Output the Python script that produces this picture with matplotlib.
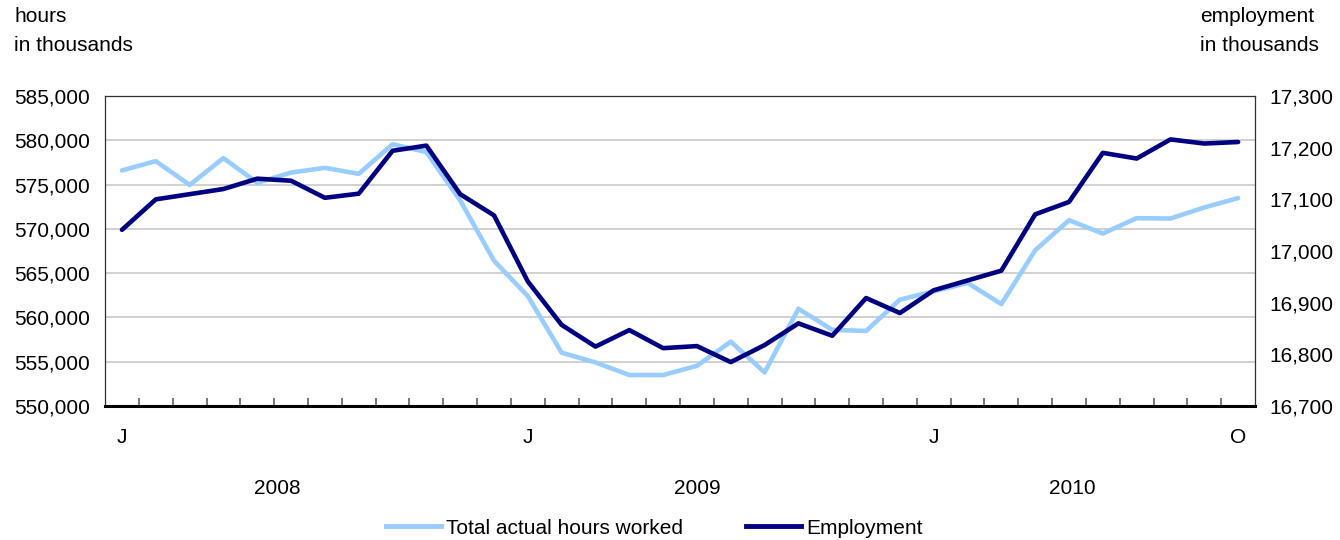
import matplotlib
matplotlib.use('Agg')
import matplotlib.pyplot as plt
from matplotlib.lines import Line2D
from matplotlib.ticker import FuncFormatter

plt.rcParams['font.family'] = ['Liberation Sans', 'DejaVu Sans']

# Monthly data, Jan 2008 to Oct 2010
months = ['J', 'F', 'M', 'A', 'M', 'J', 'J', 'A', 'S', 'O', 'N', 'D'] * 2 + \
         ['J', 'F', 'M', 'A', 'M', 'J', 'J', 'A', 'S', 'O']
years = ['2008', '2009', '2010']

hours = [576600, 577650, 574960, 577990, 575200, 576360, 576890, 576210,
         579550, 578670, 573200, 566400,
         562400, 556020, 554920, 553500, 553500, 554540, 557270, 553800,
         560980, 558600, 558480, 562010,
         562950, 563900, 561510, 567580, 570980, 569470, 571210, 571170,
         572420, 573480]

employment = [17041, 17100, 17110, 17120, 17140, 17136, 17103, 17111,
              17194, 17204, 17110, 17069,
              16941, 16857, 16815, 16847, 16812, 16816, 16785, 16818,
              16860, 16836, 16909, 16880,
              16924, 16943, 16962, 17071, 17095, 17190, 17179, 17216,
              17208, 17211]

hours_ticks = [550000, 555000, 560000, 565000, 570000, 575000, 580000, 585000]
emp_ticks = [16700, 16800, 16900, 17000, 17100, 17200, 17300]

C_HOURS = '#99CCFF'
C_EMP = '#000080'
C_GRID = '#C8C8C8'
FS = 15

fig = plt.figure(figsize=(13.4, 5.4), dpi=100)
fig.patch.set_facecolor('white')
ax = fig.add_axes([0.0784, 0.2481, 0.8582, 0.5741])
ax2 = ax.twinx()

x = list(range(len(months)))
ax.plot(x, hours, color=C_HOURS, lw=3.3, solid_capstyle='round', zorder=3)
ax2.plot(x, employment, color=C_EMP, lw=3.3, solid_capstyle='round', zorder=4)

ax.set_xlim(-0.5, len(months) - 0.5)
ax.set_ylim(hours_ticks[0], hours_ticks[-1])
ax2.set_ylim(emp_ticks[0], emp_ticks[-1])
ax.set_yticks(hours_ticks)
ax2.set_yticks(emp_ticks)
fmt = FuncFormatter(lambda v, p: '{:,.0f}'.format(v))
ax.yaxis.set_major_formatter(fmt)
ax2.yaxis.set_major_formatter(fmt)
ax.tick_params(axis='y', length=0, pad=11, labelsize=FS)
ax2.tick_params(axis='y', length=0, pad=10, labelsize=FS)

ax.grid(axis='y', color=C_GRID, lw=1.2)
ax.set_axisbelow(True)

# month boundary ticks
ax.set_xticks([i + 0.5 for i in range(len(months) - 1)])
ax.set_xticklabels([])
ax.tick_params(axis='x', direction='in', length=6, width=1.2, color='#606060')

for sp in ['left', 'right', 'top']:
    ax.spines[sp].set_linewidth(0.9)
    ax.spines[sp].set_color('#303030')
    ax2.spines[sp].set_visible(False)
ax2.spines['bottom'].set_visible(False)
ax.spines['bottom'].set_linewidth(2.2)
ax.spines['bottom'].set_color('black')

# month letters (first month of each year and last month)
tr = ax.get_xaxis_transform()
for i in [0, 12, 24, len(months) - 1]:
    ax.text(i, -0.1, months[i], transform=tr, ha='center', va='center',
            fontsize=FS)
for xpos, yr in zip([4.6, 17.0, 28.1], years):
    ax.text(xpos, -0.265, yr, transform=tr, ha='center', va='center',
            fontsize=FS)

# axis titles
fig.text(14 / 1340, 1 - 7 / 540, 'hours\nin thousands', ha='left', va='top',
         fontsize=FS, linespacing=1.65)
fig.text(1200 / 1340, 1 - 7 / 540, 'employment\nin thousands', ha='left',
         va='top', fontsize=FS, linespacing=1.65)

handles = [Line2D([], [], color=C_HOURS, lw=3.5),
           Line2D([], [], color=C_EMP, lw=3.5)]
fig.legend(handles, ['Total actual hours worked', 'Employment'],
           loc='center', bbox_to_anchor=(654 / 1340, 1 - 528 / 540), ncol=2,
           frameon=False, fontsize=FS, handlelength=2.65, handletextpad=0.25,
           columnspacing=3.0, borderpad=0)

fig.savefig('out.png', dpi=100, facecolor='white')
